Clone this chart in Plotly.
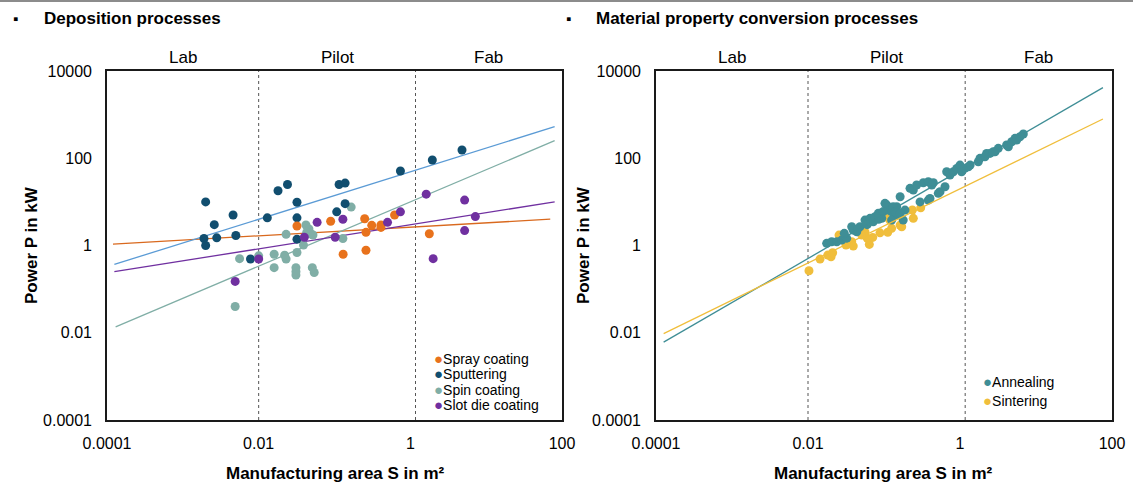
import math
import plotly.graph_objects as go

W, H = 1133, 489
FONT = "Liberation Sans, Arial, sans-serif"

# ---------------- data ----------------
x_tick_vals = [1e-4, 1e-2, 1, 100]
x_tick_text = ["0.0001", "0.01", "1", "100"]
y_tick_vals = [1e-4, 1e-2, 1, 100, 1e4]
y_tick_text = ["0.0001", "0.01", "1", "100", "10000"]
zone_names = ["Lab", "Pilot", "Fab"]
zone_bounds = [0.01, 1.17]

# Deposition processes
spray_x = [0.032, 0.089, 0.25, 0.31, 0.41, 0.41, 0.62, 0.26, 1.78, 0.13, 0.26]
spray_y = [2.8, 3.6, 4.1, 2.9, 2.95, 2.6, 5.0, 2.0, 1.86, 0.63, 0.78]

sputter_x = [0.0020, 0.0026, 0.0046, 0.0050, 0.0028, 0.0019, 0.0020, 0.0078, 0.013, 0.018,
             0.024, 0.032, 0.032, 0.032, 0.115, 0.138, 0.138, 0.107, 0.74, 1.95, 4.8]
sputter_y = [10, 3.0, 5.0, 1.7, 1.5, 1.45, 1.0, 0.49, 4.3, 18,
             25, 9.8, 4.3, 1.4, 25, 27, 9.1, 5.9, 51, 91, 155]

spin_x = [0.042, 0.046, 0.043, 0.050, 0.023, 0.166, 0.129, 0.039, 0.032, 0.022, 0.016,
          0.010, 0.0056, 0.016, 0.023, 0.031, 0.031, 0.031, 0.051, 0.054, 0.0049, 0.052]
spin_y = [2.95, 2.4, 2.0, 1.8, 1.8, 7.6, 1.45, 1.02, 0.69, 0.60, 0.63,
          0.58, 0.50, 0.31, 0.49, 0.31, 0.21, 0.25, 0.31, 0.24, 0.04, 1.74]

slot_x = [0.059, 0.040, 0.010, 0.0049, 0.129, 0.102, 0.50, 0.74, 1.62, 5.2, 7.2, 5.2, 2.0]
slot_y = [3.4, 1.55, 0.49, 0.15, 4.0, 1.55, 3.4, 5.9, 15, 11, 4.6, 2.2, 0.50]

# power-law fits: log10(P) = a + b*log10(S), drawn between s0 and s1
spray_fit = dict(a=0.42, b=0.099, s0=1.2e-4, s1=70)
sputter_fit = dict(a=1.69, b=0.544, s0=1.25e-4, s1=80)
spin_fit = dict(a=1.00, b=0.737, s0=1.3e-4, s1=80)
slot_fit = dict(a=0.476, b=0.276, s0=1.25e-4, s1=80)

# Material property conversion processes
anneal_x = [0.0176, 0.0205, 0.0239, 0.0277, 0.0323, 0.0376, 0.0394, 0.0438, 0.0483, 0.0562,
            0.0655, 0.0723, 0.0762, 0.0841, 0.0933, 0.109, 0.114, 0.126, 0.147, 0.163,
            0.147, 0.126, 0.103, 0.132, 0.140, 0.189, 0.220, 0.243, 0.269, 0.329,
            0.383, 0.446, 0.425, 0.546, 0.635, 0.668, 0.738, 0.817, 0.906, 1.0,
            1.05, 1.16, 1.36, 1.74, 1.83, 2.13, 2.48, 2.89, 3.19, 0.383,
            0.298, 0.179, 0.163, 4.11, 4.79, 5.30, 6.15, 6.81, 5.57, 4.33,
            2.24, 2.74, 1.29, 0.518, 0.403, 0.030, 0.045, 0.060, 0.085, 0.098]
anneal_y = [1.12, 1.22, 1.22, 1.33, 1.46, 2.69, 2.25, 2.06, 2.69, 3.83,
            4.19, 3.50, 4.55, 5.45, 4.19, 8.45, 6.49, 5.93, 7.73, 13.1,
            4.98, 3.83, 9.25, 7.73, 5.93, 6.49, 20.4, 18.7, 24.3, 27.4,
            28.9, 27.4, 24.3, 17.1, 22.2, 49.0, 41.2, 49.0, 58.6, 69.8,
            49.0, 58.6, 69.8, 83.2, 99.5, 108, 129, 141, 169, 11.0,
            10.0, 3.83, 5.45, 201, 239, 286, 311, 359, 261, 184,
            129, 141, 63.8, 15.7, 12.0, 1.9, 2.4, 3.0, 4.0, 6.0]

sinter_x = [0.0103, 0.0144, 0.0182, 0.0201, 0.0211, 0.0256, 0.0316, 0.0357, 0.0394, 0.0376,
            0.0641, 0.0603, 0.0710, 0.0885, 0.112, 0.0933, 0.120, 0.0562, 0.0509, 0.163,
            0.171, 0.243, 0.236, 0.304, 0.126, 0.103]
sinter_y = [0.263, 0.488, 0.603, 0.551, 0.681, 1.73, 1.02, 1.12, 0.97, 1.22,
            1.06, 1.46, 1.53, 1.95, 2.0, 5.4, 3.8, 2.06, 1.73, 2.94,
            2.69, 4.2, 6.5, 7.3, 2.47, 4.5]

anneal_fit = dict(a=1.72, b=1.009, s0=1.26e-4, s1=76)
sinter_fit = dict(a=1.30, b=0.851, s0=1.26e-4, s1=76)

# ---------------- styles ----------------
C_SPRAY = "#E8721C"
C_SPRAY_LINE = "#D9691E"
C_SPUTTER = "#114E6F"
C_SPUTTER_LINE = "#5B9BD5"
C_SPIN = "#80AEA6"
C_SLOT = "#7030A0"
C_ANNEAL = "#3F8E96"
C_SINTER = "#F0BE3C"


def fit_line(fit):
    xs = [fit["s0"], fit["s1"]]
    ys = [10 ** (fit["a"] + fit["b"] * math.log10(v)) for v in xs]
    return xs, ys


def px(p):
    return p / W


def py(p):
    return 1 - p / H


fig = go.Figure()


def add_points(x, y, color, name, xa, ya):
    fig.add_trace(go.Scatter(x=x, y=y, mode="markers", name=name, showlegend=False,
                             marker=dict(color=color, size=9, line=dict(width=0)),
                             xaxis=xa, yaxis=ya))


def add_fit(fit, color, name, xa, ya):
    xs, ys = fit_line(fit)
    fig.add_trace(go.Scatter(x=xs, y=ys, mode="lines", name=name + " fit", showlegend=False,
                             line=dict(color=color, width=1.3), xaxis=xa, yaxis=ya))


# left panel
add_fit(spray_fit, C_SPRAY_LINE, "Spray coating", "x", "y")
add_fit(sputter_fit, C_SPUTTER_LINE, "Sputtering", "x", "y")
add_fit(spin_fit, C_SPIN, "Spin coating", "x", "y")
add_fit(slot_fit, C_SLOT, "Slot die coating", "x", "y")
add_points(spin_x, spin_y, C_SPIN, "Spin coating", "x", "y")
add_points(sputter_x, sputter_y, C_SPUTTER, "Sputtering", "x", "y")
add_points(spray_x, spray_y, C_SPRAY, "Spray coating", "x", "y")
add_points(slot_x, slot_y, C_SLOT, "Slot die coating", "x", "y")

# right panel
add_points(sinter_x, sinter_y, C_SINTER, "Sintering", "x2", "y2")
add_points(anneal_x, anneal_y, C_ANNEAL, "Annealing", "x2", "y2")
add_fit(anneal_fit, C_ANNEAL, "Annealing", "x2", "y2")
add_fit(sinter_fit, C_SINTER, "Sintering", "x2", "y2")

tickfont = dict(family=FONT, size=16, color="black")
axis_common = dict(type="log", showgrid=False, zeroline=False, showline=True, mirror=True,
                   linecolor="#1a1a1a", linewidth=1.6, ticks="", tickfont=tickfont,
                   automargin=False)

plot_top, plot_bottom = 71, 420
ydom = [py(plot_bottom), py(plot_top)]
left_dom = [px(107), px(562)]
right_dom = [px(656), px(1112)]

fig.update_layout(
    width=W, height=H,
    margin=dict(l=0, r=0, t=0, b=0, pad=0, autoexpand=False),
    paper_bgcolor="white", plot_bgcolor="white",
    font=dict(family=FONT, color="black"),
    showlegend=False,
    xaxis=dict(axis_common, domain=left_dom, range=[-4, 2], tickvals=x_tick_vals,
               ticktext=x_tick_text, anchor="y", ticklabelstandoff=8),
    yaxis=dict(axis_common, domain=ydom, range=[-4, 4], tickvals=y_tick_vals,
               ticktext=y_tick_text, anchor="x", ticklabelstandoff=10),
    xaxis2=dict(axis_common, domain=right_dom, range=[-4, 2], tickvals=x_tick_vals,
                ticktext=x_tick_text, anchor="y2", ticklabelstandoff=8),
    yaxis2=dict(axis_common, domain=ydom, range=[-4, 4], tickvals=y_tick_vals,
                ticktext=y_tick_text, anchor="x2", ticklabelstandoff=10),
)

shapes = [dict(type="line", xref="paper", yref="paper", x0=0, x1=1, y0=py(1), y1=py(1),
               line=dict(color="#8c8c8c", width=2))]
for xa, ya in (("x", "y"), ("x2", "y2")):
    for b in zone_bounds:
        shapes.append(dict(type="line", xref=xa, yref=ya + " domain", x0=b, x1=b, y0=0, y1=1,
                           layer="below", line=dict(color="#555555", width=1, dash="dot")))
fig.update_layout(shapes=shapes)

ann = []
# panel headings
for bx, tx, text in ((15, 42, "Deposition processes"), (568, 594, "Material property conversion processes")):
    ann.append(dict(xref="paper", yref="paper", x=px(bx), y=py(19), text="▪", showarrow=False,
                    xanchor="center", yanchor="middle", font=dict(size=15, family=FONT, color="black")))
    ann.append(dict(xref="paper", yref="paper", x=px(tx), y=py(18), text="<b>" + text + "</b>",
                    showarrow=False, xanchor="left", yanchor="middle",
                    font=dict(size=17, family=FONT, color="black")))

# zone labels (annotation x on log axes is given in log10 units)
edges = [-4, math.log10(zone_bounds[0]), math.log10(zone_bounds[1]), 2]
for xa in ("x", "x2"):
    for i, name in enumerate(zone_names):
        ann.append(dict(xref=xa, yref="paper", x=(edges[i] + edges[i + 1]) / 2, y=py(57),
                        text=name, showarrow=False, xanchor="center", yanchor="middle",
                        font=dict(size=17, family=FONT, color="black")))

# axis titles
for cx in (335, 884):
    ann.append(dict(xref="paper", yref="paper", x=px(cx), y=py(473),
                    text="<b>Manufacturing area S in m²</b>", showarrow=False,
                    xanchor="center", yanchor="middle", font=dict(size=17, family=FONT, color="black")))
for cx in (31, 583):
    ann.append(dict(xref="paper", yref="paper", x=px(cx), y=py(245),
                    text="<b>Power P in kW</b>", showarrow=False, textangle=-90,
                    xanchor="center", yanchor="middle", font=dict(size=17, family=FONT, color="black")))

# legends
left_legend = [("Spray coating", C_SPRAY), ("Sputtering", C_SPUTTER),
               ("Spin coating", C_SPIN), ("Slot die coating", C_SLOT)]
for i, (name, col) in enumerate(left_legend):
    ann.append(dict(xref="paper", yref="paper", x=px(432), y=py(358 + i * 15.6),
                    text='<span style="color:%s;font-size:15px">●</span>%s' % (col, name),
                    showarrow=False, xanchor="left", yanchor="middle",
                    font=dict(size=14, family=FONT, color="black")))
right_legend = [("Annealing", C_ANNEAL), ("Sintering", C_SINTER)]
for i, (name, col) in enumerate(right_legend):
    ann.append(dict(xref="paper", yref="paper", x=px(981), y=py(381 + i * 19.5),
                    text='<span style="color:%s;font-size:15px">●</span>%s' % (col, name),
                    showarrow=False, xanchor="left", yanchor="middle",
                    font=dict(size=14, family=FONT, color="black")))

fig.update_layout(annotations=ann)
fig.write_html(
    "out.html",
    config={"displayModeBar": False},
    post_script="document.body.style.margin='0';document.body.style.padding='0';"
                "document.documentElement.style.overflow='hidden';",
)
